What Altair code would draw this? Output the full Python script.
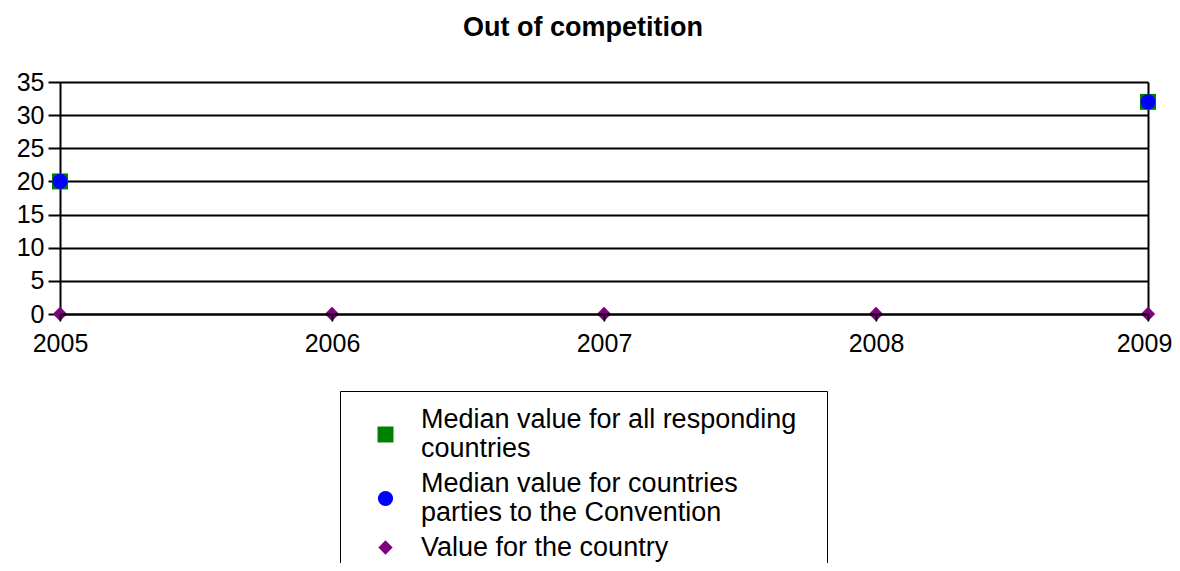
import altair as alt
import pandas as pd

years = [2005, 2006, 2007, 2008, 2009]
series_names = [
    "Median value for all responding\ncountries",
    "Median value for countries\nparties to the Convention",
    "Value for the country",
]
all_median = [20, None, None, None, 32]
parties_median = [20, None, None, None, 32]
country_value = [0, 0, 0, 0, 0]
y_ticks = [0, 5, 10, 15, 20, 25, 30, 35]

rows = []
for name, vals in zip(series_names, [all_median, parties_median, country_value]):
    for yr, v in zip(years, vals):
        if v is not None:
            rows.append({"series": name, "year": yr, "value": v})
df = pd.DataFrame(rows)

FONT = "Liberation Sans"
x_scale = alt.Scale(domain=[2005, 2009], nice=False, zero=False)
y_scale = alt.Scale(domain=[0, 35], nice=False)

x_axis = alt.Axis(values=years, format="d", title=None, grid=False,
                  tickSize=7, labelPadding=10, labelFontSize=25,
                  labelFont=FONT, labelColor="black", tickColor="black",
                  domainColor="black", domainWidth=2, tickWidth=1.5,
                  labelFlush=False, zindex=1,
                  labelOffset=alt.condition("datum.value == 2009",
                                            alt.value(-4), alt.value(0)))

points = alt.Chart(df).mark_point(filled=True, opacity=1, clip=False).encode(
    x=alt.X("year:Q", scale=x_scale, axis=x_axis),
    y=alt.Y("value:Q", scale=y_scale,
            axis=alt.Axis(values=y_ticks, title=None, grid=True, gridColor="black",
                          gridWidth=2, gridOpacity=1, tickSize=12, labelPadding=4,
                          labelFontSize=25, labelFont=FONT, labelColor="black",
                          tickColor="black", tickWidth=2, domainColor="black",
                          domainWidth=2)),
    color=alt.Color("series:N",
                    scale=alt.Scale(domain=series_names,
                                    range=["#008000", "#0000FF", "#800080"]),
                    legend=alt.Legend(
                        title=None,
                        orient="none", legendX=280, legendY=309,
                        labelExpr="split(datum.label, '\\n')",
                        labelBaseline={"expr": "indexof(datum.label, '\\n') >= 0 ? 'line-bottom' : 'middle'"},
                        labelFontSize=27, labelFont=FONT, labelColor="black",
                        labelLimit=1000, padding=30, symbolOffset=2,
                        labelOffset=22, rowPadding=7, symbolSize=240,
                        strokeColor="black", fillColor="white",
                        symbolStrokeWidth=0)),
    shape=alt.Shape("series:N",
                    scale=alt.Scale(domain=series_names,
                                    range=["square", "circle", "diamond"])),
    size=alt.Size("series:N",
                  scale=alt.Scale(domain=series_names, range=[256, 205, 220]),
                  legend=None),
)

# invisible layer that only carries the right-hand border of the plot area
right_edge = alt.Chart(df).mark_point(opacity=0).encode(
    x=alt.X("year:Q", scale=x_scale, axis=x_axis),
    y=alt.Y("value:Q", scale=y_scale,
            axis=alt.Axis(orient="right", title=None, labels=False, ticks=False,
                          grid=False, domainColor="black", domainWidth=2)),
)

chart = alt.layer(right_edge, points).resolve_scale(
    y="independent"
).properties(
    width=1088,
    height=232,
    title=alt.TitleParams("Out of competition", fontSize=27, fontWeight="bold",
                          font=FONT, anchor="middle", offset=28, dx=-21,
                          color="black"),
    autosize=alt.AutoSizeParams(type="none"),
    padding={"left": 52, "top": 74, "right": 24, "bottom": 249},
).configure_view(
    fill="#D4D4D4", stroke="black", strokeWidth=2
).configure(background="white")

chart.save("out.html", embed_options={"renderer": "svg", "actions": False})
